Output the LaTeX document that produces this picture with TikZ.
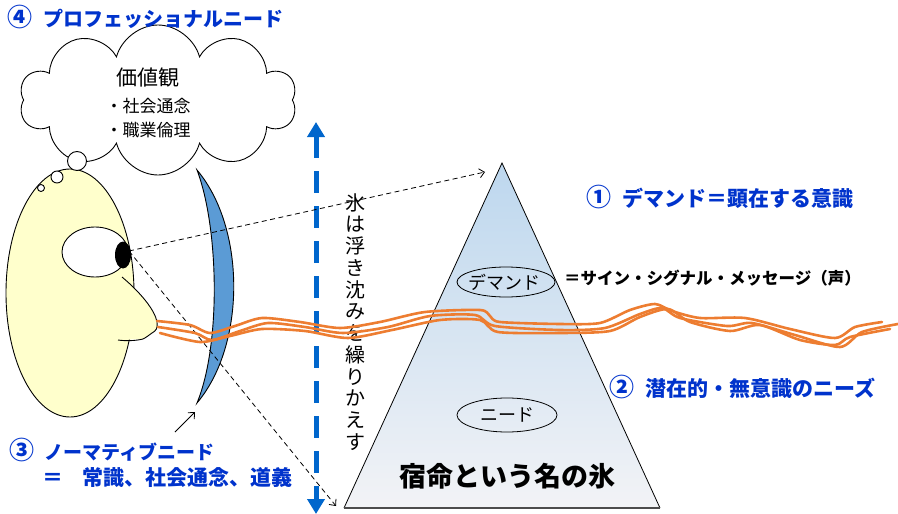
\documentclass[tikz,border=0pt]{standalone}
\usepackage{fontspec}
\setmainfont{Noto Sans CJK JP}
\usetikzlibrary{arrows.meta,shapes.symbols,shapes.geometric}

\definecolor{titleblue}{RGB}{0,51,204}
\definecolor{arrowblue}{RGB}{0,102,204}
\definecolor{lensblue}{RGB}{91,155,213}
\definecolor{skin}{RGB}{255,255,204}
\definecolor{wave}{RGB}{237,125,49}
\definecolor{icetop}{RGB}{189,215,238}
\definecolor{icebot}{RGB}{242,243,246}

\newcommand{\numbered}[1]{{\fontsize{25}{25}\selectfont #1}}

\begin{document}
\begin{tikzpicture}[x=1pt,y=-1pt,
  bluelabel/.style={inner sep=0pt, anchor=west, text=titleblue,
    font=\fontsize{21}{24}\selectfont\bfseries},
  plainlabel/.style={inner sep=0pt, font=\fontsize{17}{20}\selectfont},
  tag/.style={draw, ellipse, line width=0.8pt, inner sep=0pt},
  bubble/.style={circle, draw, fill=white, line width=0.9pt, inner sep=0pt},
  sight/.style={dash pattern=on 5pt off 3.5pt, line width=0.8pt,
    -{Straight Barb[length=5pt,width=9pt]}},
  waveline/.style={wave, line width=2.6pt, line join=round, line cap=round},
  outline/.style={line width=0.9pt}
]
\useasboundingbox (0,0) rectangle (898,514);

% ---------- thought cloud ----------
\node[cloud, cloud puffs=10, cloud ignores aspect, draw, fill=white, outline,
  minimum width=277pt, minimum height=150pt] (cloud) at (158,100) {};
\node[inner sep=0pt, font=\fontsize{21}{24}\selectfont] (vals) at (148,78) {価値観};
\node[plainlabel] (v1) at (148,106) {・社会通念};
\node[plainlabel] (v2) at (148,130) {・職業倫理};

% ---------- head ----------
\node[ellipse, draw, fill=skin, outline, minimum width=128pt, minimum height=248pt,
  inner sep=0pt] (head) at (70,293) {};
\node[bubble, minimum size=19pt] (b1) at (77,161) {};
\node[bubble, minimum size=12pt] (b2) at (57,177) {};
\node[bubble, minimum size=7pt] (b3) at (41,188) {};
\node[ellipse, draw, fill=white, outline, minimum width=66pt, minimum height=50pt,
  inner sep=0pt] (eye) at (95,252) {};
\node[ellipse, fill=black, minimum width=16pt, minimum height=27pt, inner sep=0pt]
  (pupil) at (123,255) {};
\coordinate (gaze) at (129,251);
% nose
\fill[skin] (118,277) -- (122,277) .. controls (140,292) and (155,310) .. (157,322)
  .. controls (158,328) and (156,331) .. (152,333)
  .. controls (149,335) and (147,337) .. (143,339) -- (118,340) -- cycle;
\draw[outline] (122,277) .. controls (140,292) and (155,310) .. (157,322)
  .. controls (158,328) and (156,331) .. (152,333)
  .. controls (149,335) and (147,337) .. (143,339)
  .. controls (135,341) and (125,341) .. (118,340);

% ---------- lens ----------
\coordinate (lenstop) at (197,170);
\coordinate (lensbot) at (197,403);
\draw[fill=lensblue, outline] (lenstop) .. controls (246,228) and (246,345) .. (lensbot)
  .. controls (221,345) and (219,228) .. (lenstop) -- cycle;

% ---------- vertical double arrow ----------
\coordinate (vtop) at (316,122);
\coordinate (vbot) at (316,514);
\draw[arrowblue, line width=5pt, dash pattern=on 22pt off 13pt,
  {Triangle[length=15pt,width=17pt]}-{Triangle[length=15pt,width=17pt]}] (vtop) -- (vbot);
\node[inner sep=0pt, align=center, font=\fontsize{20}{21.75}\selectfont] (float) at (355,322)
  {氷\\は\\浮\\き\\沈\\み\\を\\繰\\り\\か\\え\\す};

% ---------- iceberg ----------
\coordinate (apex) at (502,163);
\coordinate (baseL) at (344,508);
\coordinate (baseR) at (660,508);
\shade[top color=icetop, bottom color=icebot] (apex) -- (baseR) -- (baseL) -- cycle;
\draw[line width=0.8pt] (baseL) -- (apex) -- (baseR);
\draw[line width=2pt, black!70] (baseL) -- (baseR);
\node[tag, minimum width=98pt, minimum height=30pt] (demand) at (506,282) {};
\node[inner sep=0pt, font=\fontsize{18}{20}\selectfont] (demandtxt) at (504,282) {デマンド};
\node[tag, minimum width=100pt, minimum height=34pt] (need) at (507,415) {};
\node[inner sep=0pt, font=\fontsize{18}{20}\selectfont] (needtxt) at (507,415) {ニード};
\node[inner sep=0pt, font=\fontsize{27}{30}\selectfont\bfseries] (fate) at (507,476) {宿命という名の氷};

% ---------- lines of sight ----------
\coordinate (aimtop) at (485,172);
\coordinate (aimbot) at (336,506);
\draw[sight] (gaze) -- (aimtop);
\draw[sight] (gaze) -- (aimbot);

% ---------- labels ----------
\node[bluelabel, font=\fontsize{20}{24}\selectfont\bfseries] (l4) at (7,17)
  {\numbered{④}\hspace{0.55em}プロフェッショナルニード};
\node[bluelabel] (l1) at (586,197) {\numbered{①}\hspace{0.55em}デマンド＝顕在する意識};
\node[inner sep=0pt, anchor=west, font=\fontsize{16.5}{20}\selectfont\bfseries] (sign) at (564,278)
  {＝サイン・シグナル・メッセージ（声）};
\node[bluelabel] (l2) at (609,387) {\numbered{②}\hspace{0.55em}潜在的・無意識のニーズ};
\node[bluelabel, font=\fontsize{19}{24}\selectfont\bfseries] (l3) at (9,450)
  {\numbered{③}\hspace{0.55em}ノーマティブニード};
\node[bluelabel] (l3b) at (42,478) {＝\hspace{0.9em}常識、社会通念、道義};
\coordinate (pointer) at (175,432);
\draw[line width=0.8pt, -{Straight Barb[length=5pt,width=9pt]}] (pointer) -- (195,412);

% ---------- waterline ----------
\draw[waveline] plot[smooth, tension=0.45] coordinates {
  (157,321) (190,325) (210,333) (235,326) (262,318) (300,322) (340,328) (380,322)
  (425,312) (480,310) (490,316) (500,322) (560,324) (600,323) (630,310) (655,304)
  (672,311) (700,318) (745,318) (790,329) (835,338) (855,327) (882,322)};
\draw[waveline] plot[smooth, tension=0.45] coordinates {
  (158,327) (195,333) (212,340) (240,331) (268,323) (305,327) (343,333) (388,327)
  (430,316) (475,315) (495,326) (560,330) (605,328) (640,314) (662,308) (680,318)
  (727,326) (752,323) (795,335) (840,347) (862,332) (898,324)};
\draw[waveline] plot[smooth, tension=0.45] coordinates {
  (160,333) (200,342) (230,336) (262,329) (305,331) (348,338) (392,330) (440,320)
  (480,320) (498,332) (560,333) (610,331) (640,317) (668,309) (690,322) (730,331)
  (760,325) (800,340) (835,345) (850,337) (890,329)};
\end{tikzpicture}
\end{document}
